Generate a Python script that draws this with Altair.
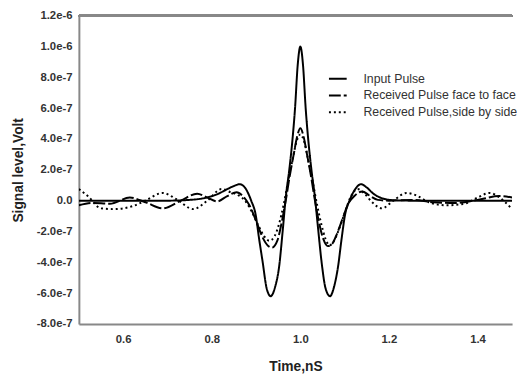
import altair as alt
import pandas as pd

# values in units of 1e-7 V
SCALE = 1e-7

t_input = [0.50, 0.60, 0.70, 0.75, 0.78, 0.815, 0.835, 0.85, 0.863, 0.876, 0.889, 0.899, 0.907,
           0.915, 0.924, 0.933, 0.943, 0.952, 0.960, 0.967, 0.975, 0.982, 0.988, 0.994, 1.000,
           1.006, 1.012, 1.018, 1.025, 1.033, 1.040, 1.048, 1.057, 1.067, 1.076, 1.085, 1.093,
           1.101, 1.111, 1.124, 1.137, 1.150, 1.165, 1.185, 1.21, 1.25, 1.30, 1.40, 1.478]
v_input = [0.0, 0.0, 0.0, 0.05, 0.15, 0.45, 0.75, 0.95, 1.07, 0.8, 0.0, -0.9, -2.5,
           -4.0, -5.7, -6.2, -5.6, -4.3, -2.0, 0.2, 2.0, 3.9, 6.0, 8.8, 10.0,
           8.8, 6.0, 3.9, 2.0, 0.2, -1.8, -4.0, -5.7, -6.2, -5.6, -4.3, -2.5,
           -0.9, 0.0, 0.75, 1.07, 0.85, 0.45, 0.15, 0.03, 0.0, 0.0, 0.0, 0.0]

t_face = [0.50, 0.53, 0.57, 0.615, 0.65, 0.689, 0.73, 0.767, 0.79, 0.812, 0.835, 0.856, 0.870,
          0.885, 0.900, 0.915, 0.926, 0.936, 0.948, 0.958, 0.967, 0.976, 0.985, 0.993, 1.000,
          1.007, 1.015, 1.024, 1.033, 1.042, 1.052, 1.062, 1.072, 1.082, 1.095, 1.108, 1.122,
          1.14, 1.155, 1.175, 1.20, 1.25, 1.30, 1.35, 1.40, 1.45, 1.478]
v_face = [-0.3, -0.15, -0.2, 0.2, -0.1, -0.5, 0.0, 0.45, 0.2, -0.05, 0.3, 0.55, 0.3,
          -0.3, -1.3, -2.4, -2.9, -3.05, -2.6, -1.4, 0.0, 1.6, 3.0, 4.2, 4.7,
          4.2, 3.0, 1.6, 0.0, -1.4, -2.5, -2.95, -2.8, -2.2, -1.2, -0.2, 0.3,
          0.6, 0.35, 0.05, 0.0, 0.05, -0.1, -0.15, 0.05, 0.3, 0.2]

t_side = [0.50, 0.52, 0.55, 0.58, 0.60, 0.622, 0.65, 0.689, 0.72, 0.758, 0.79, 0.822, 0.842,
          0.860, 0.875, 0.890, 0.905, 0.918, 0.930, 0.942, 0.952, 0.962, 0.972, 0.982, 0.991,
          1.000, 1.009, 1.018, 1.028, 1.038, 1.048, 1.057, 1.066, 1.076, 1.088, 1.100, 1.113,
          1.129, 1.145, 1.162, 1.184, 1.21, 1.24, 1.265, 1.29, 1.33, 1.37, 1.40, 1.427, 1.45, 1.478]
v_side = [0.75, 0.3, -0.5, -0.55, -0.5, -0.35, 0.0, 0.5, 0.1, -0.55, 0.0, 0.75, 0.55,
          0.35, 0.0, -0.7, -1.6, -2.3, -2.6, -2.3, -1.5, -0.3, 1.2, 2.6, 3.8,
          4.3, 3.8, 2.6, 1.2, -0.3, -1.6, -2.5, -2.9, -2.6, -1.8, -0.8, 0.2,
          0.75, 0.45, -0.1, -0.5, 0.0, 0.5, 0.3, -0.1, -0.3, -0.2, 0.2, 0.5, 0.2, -0.55]

series_names = ["Input Pulse", "Received Pulse face to face", "Received Pulse,side by side"]
dash_styles = [[1, 0], [12, 3], [2, 3]]

x_ticks = [0.6, 0.8, 1.0, 1.2, 1.4]
y_ticks = [-8e-7, -6e-7, -4e-7, -2e-7, 0.0, 2e-7, 4e-7, 6e-7, 8e-7, 1e-6, 1.2e-6]

rows = []
for name, ts, vs in zip(series_names, [t_input, t_face, t_side], [v_input, v_face, v_side]):
    for i, (t, v) in enumerate(zip(ts, vs)):
        rows.append({"t": t, "v": v * SCALE, "series": name, "order": i})
df = pd.DataFrame(rows)

FONT = "Liberation Sans"

lines = alt.Chart(df).mark_line(color="black", strokeWidth=2, clip=True, interpolate="monotone").encode(
    x=alt.X("t:Q", scale=alt.Scale(domain=[0.5, 1.478], nice=False, zero=False),
            axis=alt.Axis(values=x_ticks, format=".1f", title="Time,nS", grid=False, ticks=False,
                          domainColor="#888888", domainWidth=2, labelPadding=10, titlePadding=15,
                          labelFont=FONT, labelFontSize=11.5, labelFontWeight="bold", labelColor="#333333",
                          titleFont=FONT, titleFontSize=14, titleFontWeight="bold", titleColor="#222222")),
    y=alt.Y("v:Q", scale=alt.Scale(domain=[-8e-7, 1.2e-6], nice=False, zero=False),
            axis=alt.Axis(values=y_ticks,
                          labelExpr="datum.value == 0 ? '0.0' : replace(format(datum.value, '.1e'), '\u2212', '-')",
                          title="Signal level,Volt", grid=False, ticks=False,
                          domainColor="#888888", domainWidth=2, labelPadding=7, titlePadding=11,
                          labelFont=FONT, labelFontSize=11.5, labelFontWeight="bold", labelColor="#333333",
                          titleFont=FONT, titleFontSize=14, titleFontWeight="bold", titleColor="#222222")),
    strokeDash=alt.StrokeDash("series:N", scale=alt.Scale(domain=series_names, range=dash_styles),
                              legend=alt.Legend(title=None, orient="none", legendX=253, legendY=54,
                                                symbolType="stroke", symbolSize=324, symbolStrokeWidth=2,
                                                symbolStrokeColor="black", labelFont=FONT, labelFontSize=12.5,
                                                labelColor="#333333", labelOffset=16, rowPadding=0, padding=0)),
    order="order:Q",
    detail="series:N",
)

top_rule = alt.Chart(df).mark_rule(color="#888888", strokeWidth=2).encode(
    x=alt.value(0), x2=alt.value(440), y=alt.value(0)
)

chart = alt.layer(lines, top_rule).properties(
    width=440, height=313,
    padding={"left": 72, "top": 5, "right": 5, "bottom": 49},
    autosize=alt.AutoSizeParams(type="none"),
    background="white",
).configure_view(strokeWidth=0)

chart.save("out.html", embed_options={"renderer": "svg", "actions": False})
